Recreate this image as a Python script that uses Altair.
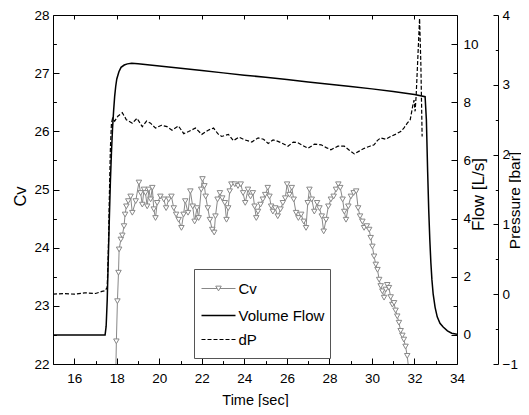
import altair as alt
import pandas as pd

# ---------------- data ----------------
cv_t = [17.95, 17.98, 18.03, 18.08, 18.11, 18.19, 18.26, 18.34, 18.39, 18.45, 18.54, 18.65, 18.73, 18.89,
        19.04, 19.12, 19.20, 19.28, 19.35, 19.43, 19.51, 19.59, 19.67, 19.74, 19.82, 19.90, 20.05, 20.21,
        20.32, 20.44, 20.57, 20.68, 20.79, 20.91, 21.04, 21.14, 21.22, 21.35, 21.46, 21.57, 21.66, 21.77,
        21.85, 21.97, 22.03, 22.12, 22.18, 22.28, 22.38, 22.49, 22.58, 22.64, 22.74, 22.85, 22.96, 23.08,
        23.16, 23.24, 23.31, 23.39, 23.55, 23.70, 23.83, 23.94, 24.04, 24.17, 24.29, 24.40, 24.48, 24.56,
        24.64, 24.76, 24.87, 24.98, 25.10, 25.18, 25.26, 25.34, 25.45, 25.57, 25.70, 25.81, 25.92, 26.01,
        26.12, 26.23, 26.32, 26.43, 26.54, 26.67, 26.79, 26.90, 26.98, 27.06, 27.17, 27.29, 27.42, 27.53,
        27.64, 27.73, 27.84, 27.95, 28.07, 28.20, 28.31, 28.42, 28.51, 28.62, 28.70, 28.78, 28.89, 29.01,
        29.14, 29.26, 29.35, 29.44, 29.55, 29.63, 29.76, 29.87, 29.94, 30.02, 30.10, 30.18, 30.26, 30.34,
        30.41, 30.49, 30.57, 30.65, 30.72, 30.80, 30.88, 30.96, 31.04, 31.11, 31.19, 31.27, 31.35, 31.43,
        31.50, 31.58, 31.66, 31.76]
cv_v = [21.80, 22.39, 23.08, 23.57, 23.97, 24.14, 24.21, 24.37, 24.57, 24.71, 24.80, 24.88, 24.60, 24.80,
        25.12, 24.94, 24.74, 25.00, 24.94, 24.71, 25.00, 24.83, 25.03, 24.66, 24.51, 24.77, 24.88, 24.83,
        24.68, 24.83, 24.88, 24.68, 24.57, 24.48, 24.34, 24.57, 24.80, 24.60, 24.97, 24.71, 24.45, 24.68,
        24.51, 25.00, 25.18, 25.06, 24.88, 24.68, 24.48, 24.31, 24.26, 24.54, 24.83, 24.94, 24.85, 24.77,
        24.48, 24.68, 24.97, 25.09, 25.09, 25.06, 25.09, 24.94, 24.77, 25.00, 24.88, 24.94, 24.71, 24.51,
        24.62, 24.74, 24.83, 24.91, 25.03, 24.88, 24.71, 24.62, 24.68, 24.54, 24.66, 24.77, 24.85, 25.09,
        24.91, 25.03, 24.83, 24.60, 24.51, 24.57, 24.45, 24.34, 24.77, 25.00, 24.83, 24.62, 24.77, 24.68,
        24.54, 24.28, 24.48, 24.71, 24.83, 24.88, 25.00, 25.09, 25.03, 24.83, 24.62, 24.48, 24.71, 24.88,
        24.94, 24.97, 24.68, 24.54, 24.45, 24.34, 24.37, 24.31, 24.17, 24.02, 23.85, 23.71, 23.62, 23.45,
        23.34, 23.25, 23.14, 23.28, 23.36, 23.31, 23.15, 23.02, 23.05, 22.92, 22.82, 22.71, 22.57, 22.49,
        22.42, 22.30, 22.14, 21.80]

flow_t = [15.0, 17.45, 17.5, 17.55, 17.6, 17.65, 17.7, 17.75, 17.8, 17.85, 17.9, 17.95, 18.0, 18.1, 18.2,
          18.35, 18.5, 18.7, 19.0, 20.0, 21.0, 22.0, 23.0, 24.0, 25.0, 26.0, 27.0, 28.0, 29.0, 30.0, 31.0,
          32.0, 32.5, 32.56, 32.62, 32.67, 32.72, 32.77, 32.82, 32.88, 32.97, 33.07, 33.2, 33.35, 33.55, 33.75, 34.0]
flow_v = [0.0, 0.0, 0.3, 1.2, 2.6, 4.0, 5.3, 6.3, 7.1, 7.7, 8.2, 8.55, 8.8, 9.05, 9.2,
          9.28, 9.32, 9.34, 9.32, 9.25, 9.17, 9.09, 9.01, 8.93, 8.86, 8.78, 8.70, 8.62, 8.54, 8.46, 8.37,
          8.27, 8.19, 7.4, 5.6, 4.3, 3.3, 2.5, 1.9, 1.4, 0.95, 0.62, 0.4, 0.27, 0.14, 0.06, 0.02]

dp_t = [15.0, 15.5, 16.0, 16.5, 17.0, 17.3, 17.45, 17.55, 17.6, 17.65, 17.7, 17.75, 17.8, 17.9, 18.05,
        18.26, 18.45, 18.73, 18.95, 19.2, 19.4, 19.59, 19.82, 20.1, 20.36, 20.6, 20.9, 21.15, 21.38, 21.7,
        22.0, 22.3, 22.55, 22.75, 22.93, 23.25, 23.48, 23.75, 24.03, 24.35, 24.65, 24.9, 25.12, 25.35,
        25.58, 25.8, 26.05, 26.3, 26.52, 26.75, 26.99, 27.3, 27.61, 27.85, 28.07, 28.4, 28.7, 28.95,
        29.17, 29.4, 29.64, 29.9, 30.1, 30.25, 30.41, 30.65, 30.88, 31.1, 31.35, 31.5, 31.66, 31.8,
        31.92, 31.98, 32.03, 32.08, 32.16, 32.24, 32.3, 32.36]
dp_v = [0.0, 0.01, 0.0, 0.02, 0.01, 0.04, 0.05, 0.1, 0.6, 1.4, 2.1, 2.45, 2.52, 2.48, 2.55,
        2.6, 2.5, 2.45, 2.52, 2.4, 2.48, 2.45, 2.38, 2.42, 2.40, 2.35, 2.41, 2.30, 2.33, 2.38,
        2.29, 2.35, 2.38, 2.30, 2.26, 2.29, 2.20, 2.25, 2.21, 2.18, 2.24, 2.22, 2.16, 2.21,
        2.19, 2.16, 2.12, 2.18, 2.17, 2.13, 2.09, 2.15, 2.14, 2.10, 2.07, 2.12, 2.12, 2.06,
        2.01, 2.05, 2.09, 2.12, 2.14, 2.20, 2.24, 2.22, 2.26, 2.29, 2.33, 2.38, 2.45, 2.50,
        2.70, 2.78, 2.62, 2.85, 3.40, 3.95, 3.30, 2.26]

x_major_vals = [16, 18, 20, 22, 24, 26, 28, 30, 32, 34]
x_minor_vals = [15, 17, 19, 21, 23, 25, 27, 29, 31, 33]
cv_major_vals = [22, 23, 24, 25, 26, 27, 28]
cv_minor_vals = [22.5, 23.5, 24.5, 25.5, 26.5, 27.5]
flow_major_vals = [0, 2, 4, 6, 8, 10]
flow_minor_vals = [1, 3, 5, 7, 9]
p_major_vals = [-1, 0, 1, 2, 3, 4]
p_minor_vals = [-0.5, 0.5, 1.5, 2.5, 3.5]

legend_labels = ["Cv", "Volume Flow", "dP"]

# ---------------- chart ----------------
FONT = "Liberation Sans"
GRAY = "#888888"
W, H = 404, 349

cv_df = pd.DataFrame({"t": cv_t, "cv": cv_v})
flow_df = pd.DataFrame({"t": flow_t, "flow": flow_v})
dp_df = pd.DataFrame({"t": dp_t, "dp": dp_v})
one = pd.DataFrame({"k": [0]})

xs = alt.Scale(domain=[15, 34], nice=False, zero=False)
cvs = alt.Scale(domain=[22, 28], nice=False, zero=False)
fs = alt.Scale(domain=[-1, 11], nice=False, zero=False)
ps = alt.Scale(domain=[-1, 4], nice=False, zero=False)


def neg(v):
    return alt.ExprRef(expr=str(-v))


x_major = alt.Axis(orient="bottom", values=x_major_vals, tickSize=neg(6), labelPadding=13,
                   labelFlush=False, labelOverlap=False, title="Time [sec]", titleFontSize=14.5,
                   titleY=40, titleBaseline="alphabetic", titleAlign="center")
x_minor = alt.Axis(orient="bottom", values=x_minor_vals, tickSize=neg(3.4), labels=False,
                   domain=False, title=None)
x_top = alt.Axis(orient="top", values=x_major_vals, tickSize=neg(4), labels=False,
                 domain=True, title=None)

y_cv = alt.Axis(orient="left", values=cv_major_vals, tickSize=neg(6), labelPadding=10,
                labelFlush=False, labelOverlap=False, title="Cv", titleFontSize=16.5,
                titleAngle=270, titleX=-33, titleY=181, titleBaseline="middle", titleAlign="center")
y_cv_minor = alt.Axis(orient="left", values=cv_minor_vals, tickSize=neg(3.4), labels=False,
                      domain=False, title=None)
y_flow = alt.Axis(orient="right", values=flow_major_vals, tickSize=neg(6), labelPadding=12,
                  labelFlush=False, labelOverlap=False, title="Flow [L/s]", titleFontSize=17,
                  titleAngle=270, titleX=21, titleY=179, titleBaseline="middle", titleAlign="center")
y_flow_minor = alt.Axis(orient="right", values=flow_minor_vals, tickSize=neg(4), labels=False,
                        domain=False, title=None)
y_p = alt.Axis(orient="right", offset=41, values=p_major_vals, tickSize=neg(5), labelPadding=9,
               labelFlush=False, labelOverlap=False, title="Pressure [bar]", titleFontSize=15.5,
               titleAngle=270, titleX=16, titleY=185, titleBaseline="middle", titleAlign="center")
y_p_minor = alt.Axis(orient="right", offset=41, values=p_minor_vals, tickSize=neg(2.7),
                     labels=False, domain=False, title=None)

cv_line = alt.Chart(cv_df).mark_line(color=GRAY, strokeWidth=1, clip=True).encode(
    x=alt.X("t:Q", scale=xs, axis=x_major),
    y=alt.Y("cv:Q", scale=cvs, axis=y_cv),
)
cv_pts = alt.Chart(cv_df).mark_point(shape="triangle-down", size=30, filled=True, fill="white",
                                     stroke=GRAY, strokeWidth=1, opacity=1, clip=True).encode(
    x=alt.X("t:Q", scale=xs, axis=x_minor),
    y=alt.Y("cv:Q", scale=cvs, axis=y_cv_minor),
)
flow_line = alt.Chart(flow_df).mark_line(color="black", strokeWidth=1.5, clip=True).encode(
    x=alt.X("t:Q", scale=xs, axis=x_top),
    y=alt.Y("flow:Q", scale=fs, axis=y_flow),
)
flow_minor = alt.Chart(flow_df).mark_line(opacity=0).encode(
    x=alt.X("t:Q", scale=xs, axis=None),
    y=alt.Y("flow:Q", scale=fs, axis=y_flow_minor),
)
dp_line = alt.Chart(dp_df).mark_line(color="black", strokeWidth=1.2, strokeDash=[4, 2], clip=True).encode(
    x=alt.X("t:Q", scale=xs, axis=None),
    y=alt.Y("dp:Q", scale=ps, axis=y_p),
)
dp_minor = alt.Chart(dp_df).mark_line(opacity=0).encode(
    x=alt.X("t:Q", scale=xs, axis=None),
    y=alt.Y("dp:Q", scale=ps, axis=y_p_minor),
)

# ---- legend (drawn in plot pixel space) ----
LX0, LX1, TX = 148.5, 182.5, 185.5
ROWS = [273.5, 300.5, 324.5]
leg_box = alt.Chart(one).mark_rect(fill="white", stroke="#555555", strokeWidth=1).encode(
    x=alt.value(141.5), x2=alt.value(277.5), y=alt.value(254.5), y2=alt.value(343.5))
leg_l1 = alt.Chart(one).mark_rule(color=GRAY, strokeWidth=1).encode(
    x=alt.value(LX0), x2=alt.value(LX1), y=alt.value(ROWS[0]))
leg_p1 = alt.Chart(one).mark_point(shape="triangle-down", size=30, filled=True, fill="white",
                                   stroke=GRAY, strokeWidth=1, opacity=1).encode(
    x=alt.value((LX0 + LX1) / 2), y=alt.value(ROWS[0]))
leg_l2 = alt.Chart(one).mark_rule(color="black", strokeWidth=1.5).encode(
    x=alt.value(LX0), x2=alt.value(LX1), y=alt.value(ROWS[1]))
leg_l3 = alt.Chart(one).mark_rule(color="black", strokeWidth=1.2, strokeDash=[4, 2]).encode(
    x=alt.value(LX0), x2=alt.value(LX1), y=alt.value(ROWS[2]))
leg_texts = [
    alt.Chart(one).mark_text(align="left", baseline="middle", font=FONT, fontSize=15, color="black").encode(
        x=alt.value(TX), y=alt.value(ROWS[i]), text=alt.value(legend_labels[i]))
    for i in range(3)
]

chart = alt.layer(
    flow_line, flow_minor, dp_line, dp_minor, cv_line, cv_pts,
    leg_box, leg_l1, leg_p1, leg_l2, leg_l3, *leg_texts
).resolve_scale(
    x="independent", y="independent"
).resolve_axis(
    x="independent", y="independent"
).properties(
    width=W, height=H,
    autosize=alt.AutoSizeParams(type="none"),
    padding={"left": 45, "top": 7, "right": 64, "bottom": 43},
).configure_axis(
    labelFont=FONT, titleFont=FONT, labelFontSize=13.5, titleFontWeight="normal",
    labelColor="black", titleColor="black", domainColor="black", tickColor="black",
    domainWidth=1, tickWidth=1, grid=False,
).configure_view(stroke=None)

chart.save("out.html", embed_options={"renderer": "svg", "actions": False})
